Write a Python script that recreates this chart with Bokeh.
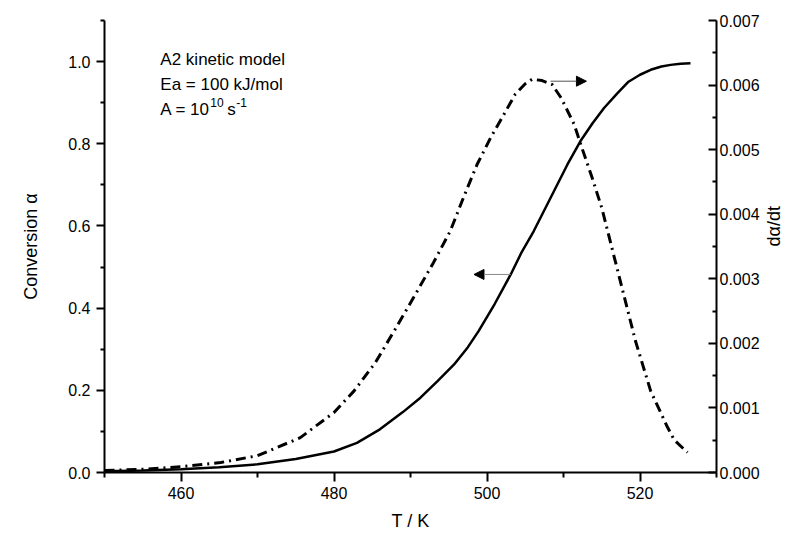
import math
from bokeh.plotting import figure
from bokeh.models import (Range1d, LinearAxis, FixedTicker, PrintfTickFormatter,
                          Label, Arrow, NormalHead)
from bokeh.embed import file_html
from bokeh.resources import INLINE

# ---- data ----
T_alpha = [450, 455, 460, 465, 470, 475, 480, 483, 486, 489, 491.3, 493.5, 495.7,
           497.5, 498.9, 501, 503.1, 504.5, 506.1, 508.3, 510.5, 512.2, 513.8,
           515.3, 517, 518.5, 520, 521.4, 522.8, 524.0, 525.3, 526.6]
alpha = [0.003, 0.005, 0.008, 0.013, 0.020, 0.033, 0.051, 0.072, 0.105, 0.147,
         0.182, 0.222, 0.263, 0.305, 0.344, 0.410, 0.482, 0.535, 0.587, 0.668,
         0.749, 0.806, 0.850, 0.887, 0.922, 0.951, 0.968, 0.980, 0.988, 0.992,
         0.995, 0.996]

T_rate = [450, 455, 460, 465.2, 470, 475.6, 480, 482.6, 485.4, 488, 490.4, 493,
          495.2, 497, 498.7, 500.5, 502.0, 503.7, 505.0, 505.9, 507.2, 508.5,
          509.7, 511.4, 512.4, 513.7, 515.0, 517.2, 519.4, 521.4, 523.6, 524.5,
          526.2]
rate = [0.00003, 0.00005, 0.00009, 0.000155, 0.00026, 0.00054, 0.00093, 0.00126,
        0.00170, 0.00222, 0.00271, 0.00325, 0.00374, 0.00428, 0.00477, 0.00519,
        0.00550, 0.00586, 0.00602, 0.00609, 0.00607, 0.00601, 0.00580, 0.00539,
        0.00503, 0.00458, 0.00410, 0.00307, 0.00204, 0.00126, 0.00070, 0.00050,
        0.00031]

x_major = [460, 480, 500, 520]
x_minor = [450, 470, 490, 510, 530]
y_major = [0.0, 0.2, 0.4, 0.6, 0.8, 1.0]
y_minor = [0.1, 0.3, 0.5, 0.7, 0.9, 1.1]
r_major = [0.000, 0.001, 0.002, 0.003, 0.004, 0.005, 0.006, 0.007]
r_minor = [0.0005, 0.0015, 0.0025, 0.0035, 0.0045, 0.0055, 0.0065]

FONT = "Liberation Sans"

p = figure(width=800, height=540, output_backend="svg", toolbar_location=None,
           x_range=Range1d(450, 530), y_range=Range1d(0, 1.1),
           x_axis_location=None, y_axis_location=None,
           min_border_left=104, min_border_right=84, min_border_top=20,
           min_border_bottom=68)
p.outline_line_color = None
p.xgrid.visible = False
p.ygrid.visible = False
p.background_fill_color = "white"
p.extra_y_ranges = {"rate": Range1d(0, 0.007)}


def style(ax, tin, tout, mtin, mtout, standoff, label_standoff):
    ax.axis_line_width = 2
    ax.axis_line_color = "black"
    ax.major_tick_line_width = 2
    ax.minor_tick_line_width = 2
    ax.major_tick_line_color = "black"
    ax.minor_tick_line_color = "black"
    ax.major_tick_in = tin
    ax.major_tick_out = tout
    ax.minor_tick_in = mtin
    ax.minor_tick_out = mtout
    ax.major_label_text_font = FONT
    ax.major_label_text_font_size = "16px"
    ax.major_label_text_color = "black"
    ax.major_label_standoff = standoff
    ax.axis_label_text_font = FONT
    ax.axis_label_text_font_size = "18px"
    ax.axis_label_text_font_style = "normal"
    ax.axis_label_text_color = "black"
    ax.axis_label_standoff = label_standoff


xaxis = LinearAxis(ticker=FixedTicker(ticks=x_major, minor_ticks=x_minor),
                   axis_label="T / K")
style(xaxis, 0, 9, 0, 5, 5, 9)
p.add_layout(xaxis, "below")

yaxis = LinearAxis(ticker=FixedTicker(ticks=y_major, minor_ticks=y_minor),
                   formatter=PrintfTickFormatter(format="%.1f"),
                   axis_label="Conversion α")
style(yaxis, 0, 8, 0, 4, 6, 24)
p.add_layout(yaxis, "left")

raxis = LinearAxis(y_range_name="rate",
                   ticker=FixedTicker(ticks=r_major, minor_ticks=r_minor),
                   formatter=PrintfTickFormatter(format="%.3f"),
                   axis_label="dα/dt")
style(raxis, 8, 0, 4, 0, 3, 11)
try:
    raxis.axis_label_orientation = math.pi / 2
except Exception:
    pass
p.add_layout(raxis, "right")

p.line(T_alpha, alpha, line_color="black", line_width=2.5)
p.line(T_rate, rate, line_color="black", line_width=3, line_dash="10 5 2 5",
       y_range_name="rate")

p.add_layout(Arrow(end=NormalHead(size=10, fill_color="black", line_color="black"),
                   x_start=503.1, y_start=0.482, x_end=498.3, y_end=0.482,
                   line_color="#888888", line_width=1))
p.add_layout(Arrow(end=NormalHead(size=10, fill_color="black", line_color="black"),
                   x_start=508.3, y_start=0.00606, x_end=513.0, y_end=0.00606,
                   line_color="#555555", line_width=1, y_range_name="rate"))

tx = 457.3
for txt, yy in [("A2 kinetic model", 1.005), ("Ea = 100 kJ/mol", 0.944)]:
    p.add_layout(Label(x=tx, y=yy, text=txt, text_font=FONT, text_font_size="17px",
                       text_baseline="middle", text_color="black"))
p.add_layout(Label(x=tx, y=0.884, text="A = 10", text_font=FONT,
                   text_font_size="17px", text_baseline="middle", text_color="black"))
p.add_layout(Label(x=tx, y=0.884, x_offset=50, y_offset=7, text="10", text_font=FONT,
                   text_font_size="12px", text_baseline="middle", text_color="black"))
p.add_layout(Label(x=tx, y=0.884, x_offset=67, text="s", text_font=FONT,
                   text_font_size="17px", text_baseline="middle", text_color="black"))
p.add_layout(Label(x=tx, y=0.884, x_offset=76, y_offset=7, text="-1", text_font=FONT,
                   text_font_size="12px", text_baseline="middle", text_color="black"))

open("out.html", "w").write(file_html(p, INLINE))
